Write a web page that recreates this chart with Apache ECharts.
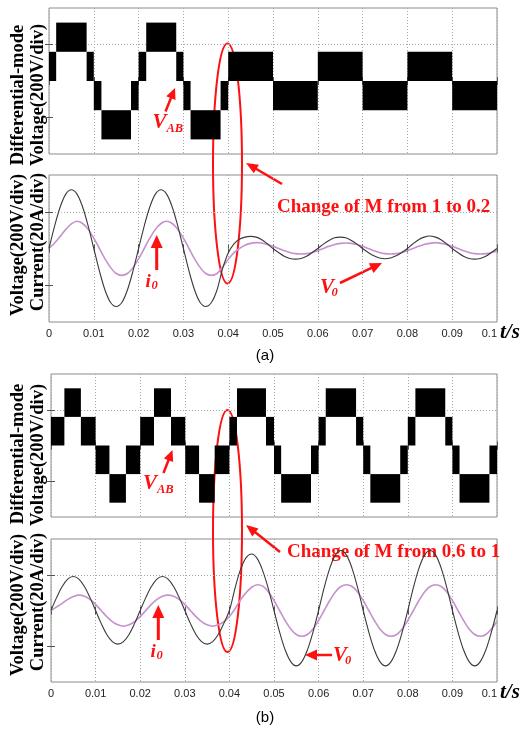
<!DOCTYPE html>
<html><head><meta charset="utf-8">
<script src="https://cdn.jsdelivr.net/npm/echarts@6/dist/echarts.min.js"></script>
<style>html,body{margin:0;padding:0;background:#fff}#c{width:523px;height:729px}</style>
</head><body><div id="c"></div>
<script>
// ---------- DATA (y in divisions, t in seconds) ----------
const xTicks = [0,0.01,0.02,0.03,0.04,0.05,0.06,0.07,0.08,0.09,0.1];
const tSample = [
 0,0.00125,0.0025,0.00375,0.005,0.00625,0.0075,0.00875,
 0.01,0.01125,0.0125,0.01375,0.015,0.01625,0.0175,0.01875,
 0.02,0.02125,0.0225,0.02375,0.025,0.02625,0.0275,0.02875,
 0.03,0.03125,0.0325,0.03375,0.035,0.03625,0.0375,0.03875,
 0.04,0.04125,0.0425,0.04375,0.045,0.04625,0.0475,0.04875,
 0.05,0.05125,0.0525,0.05375,0.055,0.05625,0.0575,0.05875,
 0.06,0.06125,0.0625,0.06375,0.065,0.06625,0.0675,0.06875,
 0.07,0.07125,0.0725,0.07375,0.075,0.07625,0.0775,0.07875,
 0.08,0.08125,0.0825,0.08375,0.085,0.08625,0.0875,0.08875,
 0.09,0.09125,0.0925,0.09375,0.095,0.09625,0.0975,0.09875,
 0.1];
// (a) output voltage V0 and current i0
const v0A = [
 0,0.61,1.13,1.48,1.6,1.48,1.13,0.61,
 0,-0.61,-1.13,-1.47,-1.58,-1.47,-1.13,-0.61,
 0,0.61,1.13,1.48,1.6,1.48,1.13,0.61,
 0,-0.61,-1.13,-1.47,-1.58,-1.47,-1.13,-0.55,
 -0.12,0.12,0.25,0.31,0.33,0.31,0.24,0.13,
 0,-0.11,-0.21,-0.27,-0.29,-0.27,-0.21,-0.11,
 0,0.12,0.22,0.29,0.31,0.29,0.22,0.12,
 0,-0.11,-0.2,-0.26,-0.28,-0.26,-0.2,-0.11,
 0,0.13,0.24,0.31,0.34,0.31,0.24,0.13,
 0,-0.11,-0.21,-0.27,-0.29,-0.27,-0.21,-0.11,
 0];
const i0A = [
 0,0.15,0.33,0.52,0.67,0.74,0.68,0.52,
 0.28,0,-0.28,-0.52,-0.68,-0.73,-0.68,-0.52,
 -0.28,0,0.28,0.52,0.68,0.74,0.68,0.52,
 0.28,0,-0.28,-0.52,-0.68,-0.73,-0.68,-0.5,
 -0.3,-0.12,0,0.09,0.14,0.16,0.15,0.11,
 0.06,0,-0.06,-0.11,-0.14,-0.15,-0.14,-0.11,
 -0.06,0,0.06,0.11,0.14,0.15,0.14,0.11,
 0.06,0,-0.06,-0.11,-0.14,-0.15,-0.14,-0.11,
 -0.06,0,0.06,0.11,0.14,0.16,0.14,0.11,
 0.06,0,-0.06,-0.11,-0.14,-0.15,-0.14,-0.11,
 -0.06];
// (b)
const v0B = [
 0,0.36,0.67,0.88,0.95,0.88,0.67,0.36,
 0,-0.36,-0.67,-0.87,-0.94,-0.87,-0.67,-0.36,
 0,0.36,0.67,0.88,0.95,0.88,0.67,0.36,
 0,-0.36,-0.67,-0.87,-0.94,-0.87,-0.67,-0.36,
 0,0.62,1.15,1.48,1.58,1.45,1.1,0.6,
 0,-0.6,-1.1,-1.43,-1.55,-1.43,-1.1,-0.6,
 0,0.64,1.18,1.55,1.68,1.55,1.18,0.64,
 0,-0.6,-1.1,-1.43,-1.55,-1.43,-1.1,-0.6,
 0,0.64,1.18,1.55,1.68,1.55,1.18,0.64,
 0,-0.6,-1.1,-1.43,-1.55,-1.43,-1.1,-0.6,
 0];
const i0B = [
 0,0.1,0.2,0.31,0.39,0.43,0.4,0.31,
 0.17,0,-0.17,-0.31,-0.4,-0.44,-0.4,-0.31,
 -0.17,0,0.17,0.31,0.4,0.43,0.4,0.31,
 0.17,0,-0.17,-0.31,-0.4,-0.44,-0.4,-0.31,
 -0.17,0.05,0.3,0.5,0.65,0.72,0.68,0.52,
 0.28,0,-0.28,-0.52,-0.67,-0.72,-0.67,-0.52,
 -0.28,0,0.28,0.52,0.67,0.72,0.67,0.52,
 0.28,0,-0.28,-0.52,-0.67,-0.72,-0.67,-0.52,
 -0.28,0,0.28,0.52,0.67,0.72,0.67,0.52,
 0.28,0,-0.28,-0.52,-0.67,-0.72,-0.67,-0.52,
 -0.3];
// differential-mode voltage VAB switching bands: [tStart, tEnd, low, high]
const vabA = [
 [0,0.0016,0,0.8],[0.0016,0.0084,0.8,1.6],[0.0084,0.01,0,0.8],
 [0.01,0.0117,-0.8,0],[0.0117,0.0183,-1.6,-0.8],[0.0183,0.02,-0.8,0],
 [0.02,0.0217,0,0.8],[0.0217,0.0284,0.8,1.6],[0.0284,0.03,0,0.8],
 [0.03,0.0316,-0.8,0],[0.0316,0.0383,-1.6,-0.8],[0.0383,0.04,-0.8,0],
 [0.04,0.05,0,0.8],[0.05,0.06,-0.8,0],[0.06,0.07,0,0.8],
 [0.07,0.08,-0.8,0],[0.08,0.09,0,0.8],[0.09,0.1,-0.8,0]];
const vabB = [
 [0,0.003,0,0.8],[0.003,0.0067,0.8,1.6],[0.0067,0.01,0,0.8],
 [0.01,0.0131,-0.8,0],[0.0131,0.0168,-1.6,-0.8],[0.0168,0.02,-0.8,0],
 [0.02,0.0231,0,0.8],[0.0231,0.0269,0.8,1.6],[0.0269,0.0301,0,0.8],
 [0.0301,0.0332,-0.8,0],[0.0332,0.0367,-1.6,-0.8],[0.0367,0.04,-0.8,0],
 [0.04,0.0417,0,0.8],[0.0417,0.0482,0.8,1.6],[0.0482,0.05,0,0.8],
 [0.05,0.0516,-0.8,0],[0.0516,0.0583,-1.6,-0.8],[0.0583,0.06,-0.8,0],
 [0.06,0.0616,0,0.8],[0.0616,0.0684,0.8,1.6],[0.0684,0.07,0,0.8],
 [0.07,0.0716,-0.8,0],[0.0716,0.0783,-1.6,-0.8],[0.0783,0.08,-0.8,0],
 [0.08,0.0817,0,0.8],[0.0817,0.0884,0.8,1.6],[0.0884,0.09,0,0.8],
 [0.09,0.0916,-0.8,0],[0.0916,0.0983,-1.6,-0.8],[0.0983,0.1,-0.8,0]];
const yGridValues = [-1, 1];

// ---------- CHART ----------
const chart = echarts.init(document.getElementById('c'), null, {renderer:'canvas'});
const RED = '#ff1010';
const SERIF = "'Liberation Serif','Times New Roman',serif";
const SANS = "'Liberation Sans',Arial,sans-serif";
const gridBoxes = [
 {left:49, top:8, width:448, height:146},
 {left:49, top:175, width:448, height:147},
 {left:51, top:374, width:446, height:143},
 {left:51, top:539, width:446, height:143}];
const grid = gridBoxes.map(g => Object.assign({show:true, borderColor:'#8c8c8c', borderWidth:1}, g));
const dotted = {color:'#a8a8a8', type:[1,2], width:1};
const xAxis = [], yAxis = [];
for (let i = 0; i < 4; i++) {
  xAxis.push({type:'value', gridIndex:i, min:0, max:0.1, interval:0.01, position:'bottom',
    axisLine:{show:false}, axisTick:{show:true, inside:true, length:4, lineStyle:{color:'#555'}},
    splitLine:{show:true, lineStyle:dotted},
    axisLabel:{show:(i===1||i===3), margin:6, fontSize:11, color:'#222', fontFamily:SANS,
      alignMaxLabel:'right',
      formatter:v => String(Math.round(v*100)/100)}});
}
for (let i = 0; i < 4; i++) {
  xAxis.push({type:'value', gridIndex:i, min:0, max:0.1, interval:0.01, position:'top',
    axisLine:{show:false}, axisTick:{show:true, inside:true, length:4, lineStyle:{color:'#555'}},
    splitLine:{show:false}, axisLabel:{show:false}});
}
for (let i = 0; i < 4; i++) {
  yAxis.push({type:'value', gridIndex:i, min:-2, max:2, interval:1, position:'left',
    axisLine:{show:false}, axisLabel:{show:false},
    axisTick:{show:true, inside:true, length:4, customValues:yGridValues, lineStyle:{color:'#555'}},
    splitLine:{show:true, lineStyle:Object.assign({}, dotted, {color:['rgba(0,0,0,0)','#a8a8a8']})}});
}
for (let i = 0; i < 4; i++) {
  yAxis.push({type:'value', gridIndex:i, min:-2, max:2, interval:1, position:'right',
    axisLine:{show:false}, axisLabel:{show:false}, splitLine:{show:false},
    axisTick:{show:true, inside:true, length:4, customValues:yGridValues, lineStyle:{color:'#555'}}});
}
function bands(data, idx) {
  return {type:'custom', xAxisIndex:idx, yAxisIndex:idx, data:data, encode:{x:[0,1], y:[2,3]},
    silent:true, renderItem:(params, api) => {
      const a = api.coord([api.value(0), api.value(3)]);
      const b = api.coord([api.value(1), api.value(2)]);
      return {type:'rect', shape:{x:a[0], y:a[1], width:b[0]-a[0], height:b[1]-a[1]}, style:{fill:'#000'}};
    }};
}
function curve(vals, idx, color, w) {
  return {type:'line', xAxisIndex:idx, yAxisIndex:idx, data:tSample.map((t,k)=>[t, vals[k]]),
    showSymbol:false, smooth:0.35, silent:true, lineStyle:{color:color, width:w}};
}
const PINK = '#c790ce', DARK = '#3a3a3a';

function arrow(x1,y1,x2,y2,w,hl,hw) {
  const dx=x2-x1, dy=y2-y1, L=Math.hypot(dx,dy), ux=dx/L, uy=dy/L;
  const bx=x2-ux*hl, by=y2-uy*hl;
  return [
    {type:'line', shape:{x1:x1,y1:y1,x2:bx+ux,y2:by+uy}, style:{stroke:RED, lineWidth:w}},
    {type:'polygon', shape:{points:[[x2,y2],[bx-uy*hw/2, by+ux*hw/2],[bx+uy*hw/2, by-ux*hw/2]]}, style:{fill:RED}}];
}
function txt(x,y,s,font,color,align,rot) {
  return {type:'text', x:x, y:y, rotation:rot||0,
    style:{text:s, font:font, fill:color||'#000', align:align||'left', verticalAlign:'middle',
      textAlign:align||'left', textVerticalAlign:'middle'}};
}
const fBI = sz => 'italic bold ' + sz + 'px ' + SERIF;
const fB = sz => 'bold ' + sz + 'px ' + SERIF;
const R90 = Math.PI/2;
const graphic = [
  // axis titles (a)
  txt(18, 95, 'Differential-mode', fB(18.5), '#000', 'center', R90),
  txt(18, 245, 'Voltage(200V/div)', fB(18.5), '#000', 'center', R90),
  txt(38, 95, 'Voltage(200V/div)', fB(18.5), '#000', 'center', R90),
  txt(38, 242, 'Current(20A/div)', fB(18.5), '#000', 'center', R90),
  // axis titles (b)
  txt(18, 454, 'Differential-mode', fB(18.5), '#000', 'center', R90),
  txt(18, 605, 'Voltage(200V/div)', fB(18.5), '#000', 'center', R90),
  txt(38, 455, 'Voltage(200V/div)', fB(18.5), '#000', 'center', R90),
  txt(38, 602, 'Current(20A/div)', fB(18.5), '#000', 'center', R90),
  // t/s
  txt(500, 333, 't/s', fBI(21), '#000', 'left'),
  txt(500, 693, 't/s', fBI(21), '#000', 'left'),
  // captions
  txt(265, 356, '(a)', '15px ' + SANS, '#000', 'center'),
  txt(265, 718, '(b)', '15px ' + SANS, '#000', 'center'),
  // ellipses
  {type:'ellipse', shape:{cx:227.5, cy:163.5, rx:14.5, ry:120}, style:{fill:'none', stroke:RED, lineWidth:2}},
  {type:'ellipse', shape:{cx:227.5, cy:531, rx:14.5, ry:121}, style:{fill:'none', stroke:RED, lineWidth:2}},
  // change texts
  txt(277, 207, 'Change of M from 1 to 0.2', fB(19), RED, 'left'),
  txt(287, 552, 'Change of M from 0.6 to 1', fB(19), RED, 'left'),
  // labels (a)
  txt(152.5, 122.5, 'V', fBI(21), RED, 'left'),
  txt(166.5, 128.5, 'AB', fBI(12.5), RED, 'left'),
  txt(145.5, 282, 'i', fBI(19), RED, 'left'),
  txt(151.5, 286, '0', fBI(12.5), RED, 'left'),
  txt(320, 287.5, 'V', fBI(21), RED, 'left'),
  txt(331.5, 293, '0', fBI(12.5), RED, 'left'),
  // labels (b)
  txt(143, 484, 'V', fBI(21), RED, 'left'),
  txt(157, 490, 'AB', fBI(12.5), RED, 'left'),
  txt(150.5, 652, 'i', fBI(19), RED, 'left'),
  txt(156.5, 656, '0', fBI(12.5), RED, 'left'),
  txt(333, 656, 'V', fBI(21), RED, 'left'),
  txt(345, 661, '0', fBI(12.5), RED, 'left')
].concat(
  arrow(282, 184, 246, 163, 2.5, 12, 10),
  arrow(280, 552, 246, 525, 2.5, 12, 10),
  arrow(165.5, 111.5, 175, 88, 2.5, 11, 10),
  arrow(163.5, 473, 172.5, 450, 2.5, 11, 10),
  arrow(156.7, 270, 156.7, 235, 3, 13, 12),
  arrow(158.3, 640, 158.3, 605, 3, 13, 12),
  arrow(340, 283, 382, 263, 2.5, 12, 11),
  arrow(332, 655, 305, 655, 2.5, 12, 11)
);

chart.setOption({
  animation:false,
  backgroundColor:'#fff',
  grid:grid, xAxis:xAxis, yAxis:yAxis,
  series:[
    bands(vabA, 0),
    curve(i0A, 1, PINK, 1.6), curve(v0A, 1, DARK, 1.1),
    bands(vabB, 2),
    curve(i0B, 3, PINK, 1.6), curve(v0B, 3, DARK, 1.1)
  ],
  graphic:{elements:graphic}
});
</script></body></html>
